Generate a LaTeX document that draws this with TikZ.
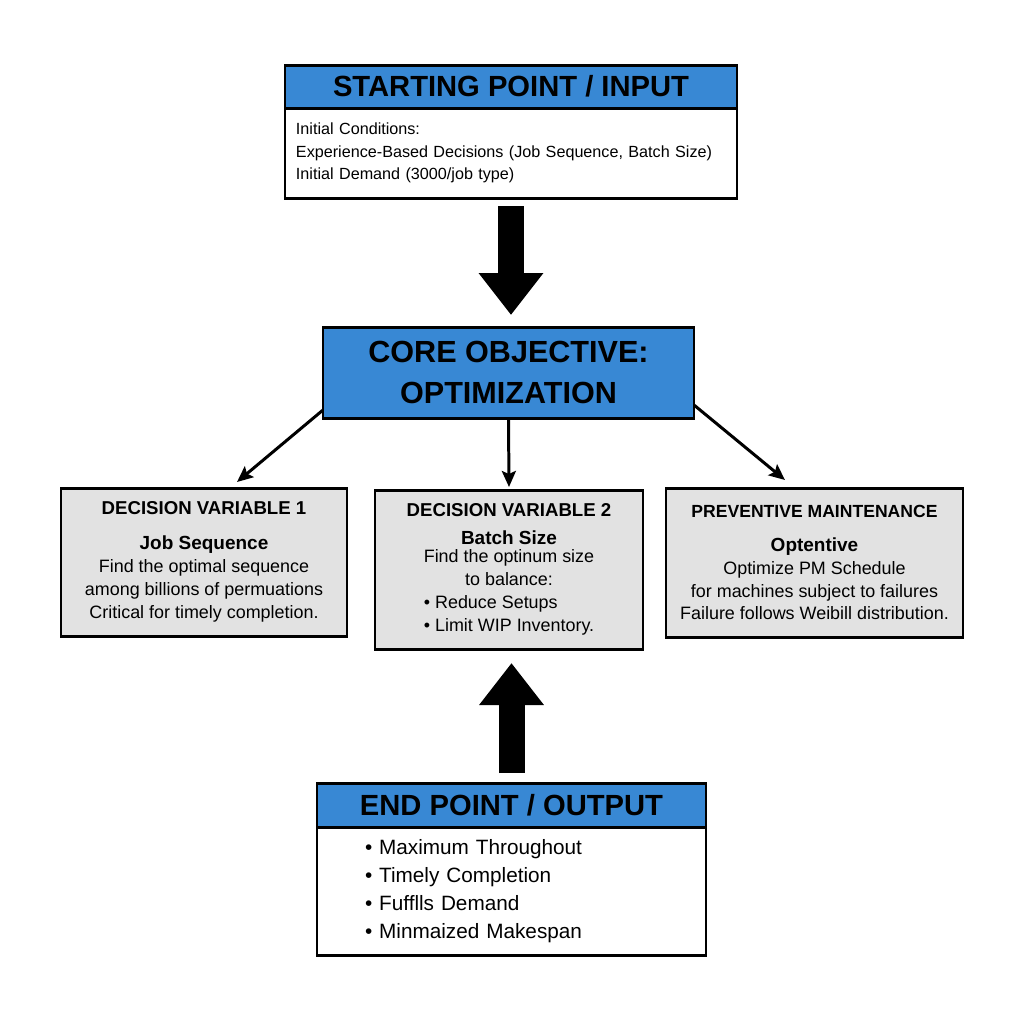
\documentclass[tikz,border=0pt]{standalone}
\usepackage{fontspec}
\setmainfont{Liberation Sans}
\usetikzlibrary{arrows.meta,positioning}
\definecolor{headblue}{RGB}{56,136,212}
\definecolor{boxgray}{RGB}{226,226,226}
\newcommand{\fsz}[2]{\fontsize{#1}{#2}\selectfont}

\begin{document}
\begin{tikzpicture}[
    every node/.style={inner sep=0pt, outer sep=0pt},
    head/.style={draw, line width=0.85pt, fill=headblue, font=\bfseries\fsz{8.3}{10}},
    whitebody/.style={draw, line width=0.85pt, fill=white, align=left, font=\fsz{4.6}{6.4}},
    graybox/.style={draw, line width=0.85pt, fill=boxgray, align=center, font=\fsz{5.1}{6.5}},
    thinarrow/.style={line width=0.85pt, -{Stealth[length=0.16cm,width=0.14cm,inset=0.03cm]}},
    bigarrow/.style={line width=0.26cm, -{Triangle[length=0.42cm,width=0.62cm]}}
  ]
    \useasboundingbox (0,0) rectangle (10.24,-10.24);

    % input
    \node[whitebody, minimum width=4.52cm, minimum height=0.90cm, text width=4.3cm] (input) at (5.11,-1.53)
      {Initial Conditions:\\ Experience-Based Decisions (Job Sequence, Batch Size)\\ Initial Demand (3000/job type)};
    \node[head, minimum width=4.52cm, minimum height=0.43cm, above=0pt of input] (inhead) {STARTING POINT / INPUT};

    % objective
    \node[head, align=center, font=\bfseries\fsz{8.7}{11.7}, minimum width=3.71cm, minimum height=0.91cm] (core) at (5.085,-3.725)
      {CORE OBJECTIVE:\\ OPTIMIZATION};

    % decision boxes
    \node[graybox, minimum width=2.86cm, minimum height=1.48cm] (dv1) at (2.04,-5.62)
      {{\bfseries\fsz{5.3}{6.5}DECISION VARIABLE 1}\\[3.5pt]
       {\bfseries\fsz{5.4}{6.5}Job Sequence}\\
       Find the optimal sequence\\ among billions of permuations\\ Critical for timely completion.};
    \node[graybox, minimum width=2.68cm, minimum height=1.59cm] (dv2) at (5.09,-5.695)
      {{\bfseries\fsz{5.3}{6.5}DECISION VARIABLE 2}\\[1.5pt]
       {\bfseries\fsz{5.4}{6.5}Batch Size}\\[-1.4pt]
       Find the optinum size\\ to balance:\\
       \makebox[0pt][l]{• Reduce Setups}\phantom{• Limit WIP Inventory.}\\
       • Limit WIP Inventory.};
    \node[graybox, minimum width=2.97cm, minimum height=1.49cm] (pm) at (8.145,-5.625)
      {{\bfseries\fsz{5.0}{6.5}PREVENTIVE MAINTENANCE}\\[3.2pt]
       {\bfseries\fsz{5.4}{6.5}Optentive}\\
       Optimize PM Schedule\\ for machines subject to failures\\ Failure follows Weibill distribution.};

    % output
    \node[whitebody, font=\fsz{5.9}{8}, minimum width=3.89cm, minimum height=1.28cm, text width=2.93cm] (output) at (5.115,-8.91)
      {• Maximum Throughout\\ • Timely Completion\\ • Fufflls Demand\\ • Minmaized Makespan};
    \node[head, minimum width=3.89cm, minimum height=0.44cm, above=0pt of output] (outhead) {END POINT / OUTPUT};

    \draw[bigarrow, shorten <=0.08cm, shorten >=0.12cm] (input.south) -- (input.south |- core.north);
    \draw[bigarrow, shorten <=0.10cm, shorten >=0.14cm] (outhead.north) -- (outhead.north |- dv2.south);
    \draw[thinarrow] ([yshift=0.08cm]core.south west) -- ([xshift=0.33cm,yshift=0.06cm]dv1.north);
    \draw[thinarrow] (core.south) -- ([yshift=0.03cm]dv2.north);
    \draw[thinarrow] ([yshift=0.13cm]core.south east) -- ([xshift=-0.295cm,yshift=0.08cm]pm.north);
\end{tikzpicture}
\end{document}
